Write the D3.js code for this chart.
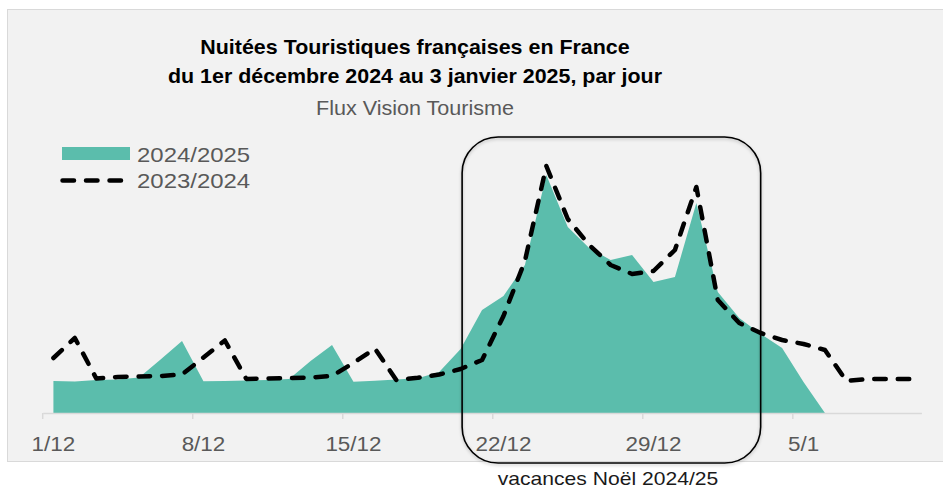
<!DOCTYPE html>
<html>
<head>
<meta charset="utf-8">
<script src="https://cdn.jsdelivr.net/npm/d3@7"></script>
<style>
  body { margin: 0; background: #fff; }
  svg { display: block; font-family: "Liberation Sans", Arial, sans-serif; }
</style>
</head>
<body>
<svg width="943" height="489"></svg>
<script>
// jours du 1/12 au 10/1
var jours = ['1/12','2/12','3/12','4/12','5/12','6/12','7/12','8/12','9/12','10/12',
  '11/12','12/12','13/12','14/12','15/12','16/12','17/12','18/12','19/12','20/12',
  '21/12','22/12','23/12','24/12','25/12','26/12','27/12','28/12','29/12','30/12',
  '31/12','1/1','2/1','3/1','4/1','5/1','6/1','7/1','8/1','9/1','10/1']
var tickLabels = ['1/12','8/12','15/12','22/12','29/12','5/1']

// nuitees (indice relatif)
var saison2425 = [32,31.5,33,33.5,35.5,53.5,72,31.7,32,32.5,
  33,34,52,68,31.3,32.3,33.5,34.7,41,64,
  103,117,148,238,186,165,153,158,131,136,
  210,121,95,79,65,31,0]
var saison2324 = [55,75,34.5,36,36.5,37,38.5,55.5,72.5,34,
  34.5,35,35.5,37,50,64.5,33,35.3,38.5,44,
  53,97,152,247,194,168,148,139,142,163,
  226,113,90,80,73,69,63,32,34,34,34]

var legende = ['2024/2025','2023/2024']
var titre = ['Nuitées Touristiques françaises en France',
             'du 1er décembre 2024 au 3 janvier 2025, par jour']
var sousTitre = 'Flux Vision Tourisme'
var annotation = 'vacances Noël 2024/25'
// periode des vacances (cadre)
var vacances = ['20/12', '3/1']

var teal = '#5bbdac'
var svg = d3.select('svg')

// etire un peu le texte en largeur
function stretch(sel, k) {
  sel.each(function() {
    var w = this.getComputedTextLength()
    this.setAttribute('textLength', w * k)
    this.setAttribute('lengthAdjust', 'spacingAndGlyphs')
  })
}

svg.append('rect')
  .attr('x', 7.5).attr('y', 9.5)
  .attr('width', 960).attr('height', 452)
  .attr('fill', '#f2f2f2')
  .attr('stroke', '#d9d9d9')

var x = d3.scaleBand()
  .domain(jours)
  .range([42.7, 921.4])
  .padding(0)
var bw = x.bandwidth()
function cx(d) { return x(d) + bw / 2 }

var y = d3.scaleLinear()
  .domain([0, 250])
  .range([413, 163])

var area = d3.area()
  .x(function(d, i) { return cx(jours[i]) })
  .y0(y(0))
  .y1(function(d) { return y(d) })

svg.append('path')
  .datum(saison2425)
  .attr('d', area)
  .attr('fill', teal)

// axe
var axis = d3.axisBottom(x)
  .tickValues(tickLabels)
  .tickSize(0)
  .tickSizeOuter(0)

var gx = svg.append('g')
  .attr('transform', 'translate(0,413)')
  .call(axis)
gx.select('.domain').attr('stroke', '#d9d9d9').attr('stroke-width', 1.5)
gx.selectAll('text')
  .attr('y', 38).attr('dy', null)
  .attr('fill', '#595959')
  .style('font-size', '19.5px')
  .style('font-family', '"Liberation Sans", Arial, sans-serif')
stretch(gx.selectAll('text'), 1.15)

gx.selectAll('.tickmark')
  .data(tickLabels)
  .enter()
  .append('line')
  .attr('class', 'tickmark')
  .attr('x1', function(d) { return x(d) })
  .attr('x2', function(d) { return x(d) })
  .attr('y1', 0).attr('y2', 6)
  .attr('stroke', '#d9d9d9')
  .attr('stroke-width', 1.5)

var line = d3.line()
  .x(function(d, i) { return cx(jours[i]) })
  .y(function(d) { return y(d) })

svg.append('path')
  .datum(saison2324)
  .attr('d', line)
  .attr('fill', 'none')
  .attr('stroke', '#000')
  .attr('stroke-width', 4.5)
  .attr('stroke-dasharray', '11.5 12')
  .attr('stroke-linecap', 'round')
  .attr('stroke-linejoin', 'round')

// titre
var t = svg.append('g')
t.selectAll('text.titre')
  .data(titre)
  .enter()
  .append('text')
  .attr('class', 'titre')
  .attr('x', 415)
  .attr('y', function(d, i) { return 54 + i * 29 })
  .attr('text-anchor', 'middle')
  .style('font-size', '21px')
  .style('font-weight', 'bold')
  .attr('fill', '#000')
  .text(function(d) { return d })
stretch(t.selectAll('text.titre'), 1.02)
t.append('text')
  .attr('class', 'sous')
  .attr('x', 415).attr('y', 115)
  .attr('text-anchor', 'middle')
  .style('font-size', '19.5px')
  .attr('fill', '#595959')
  .text(sousTitre)
stretch(t.selectAll('text.sous'), 1.105)

// legende
var leg = svg.append('g')
leg.append('rect')
  .attr('x', 62).attr('y', 147)
  .attr('width', 68).attr('height', 13)
  .attr('fill', teal)
leg.append('line')
  .attr('x1', 62.5).attr('x2', 128)
  .attr('y1', 180.5).attr('y2', 180.5)
  .attr('stroke', '#000')
  .attr('stroke-width', 4.5)
  .attr('stroke-dasharray', '11.5 12')
  .attr('stroke-linecap', 'round')
leg.selectAll('text')
  .data(legende)
  .enter()
  .append('text')
  .attr('x', 137)
  .attr('y', function(d, i) { return 162 + i * 26 })
  .style('font-size', '21px')
  .attr('fill', '#595959')
  .text(function(d) { return d })
stretch(leg.selectAll('text'), 1.14)

// cadre vacances
var defs = svg.append('defs')
var f = defs.append('filter').attr('id', 'ombre')
  .attr('x', '-10%').attr('y', '-10%').attr('width', '120%').attr('height', '120%')
f.append('feDropShadow')
  .attr('dx', 0).attr('dy', 1.5)
  .attr('stdDeviation', 1.5)
  .attr('flood-color', '#000')
  .attr('flood-opacity', 0.25)

var x0 = cx(vacances[0]) + 1.5
var x1 = cx(vacances[1])
svg.append('rect')
  .attr('x', x0).attr('y', 137)
  .attr('width', x1 - x0)
  .attr('height', 326)
  .attr('rx', 36).attr('ry', 36)
  .attr('fill', 'none')
  .attr('stroke', '#000')
  .attr('stroke-width', 1.6)
  .attr('filter', 'url(#ombre)')

svg.append('text')
  .attr('class', 'annot')
  .attr('x', 608).attr('y', 485)
  .attr('text-anchor', 'middle')
  .style('font-size', '18.5px')
  .attr('fill', '#1a1a1a')
  .text(annotation)
stretch(svg.selectAll('text.annot'), 1.14)
</script>
</body>
</html>
